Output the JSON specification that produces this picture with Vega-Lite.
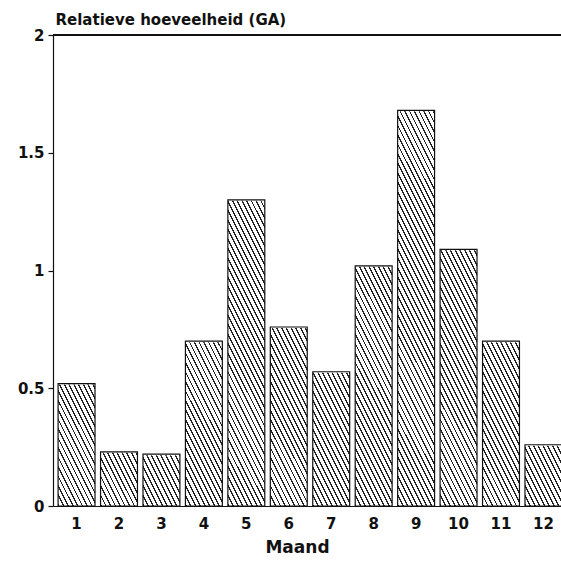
{
  "$schema": "https://vega.github.io/schema/vega-lite/v6.json",
  "autosize": "none",
  "padding": {"left": 53, "top": 35, "right": 0, "bottom": 59},
  "width": 514,
  "height": 471,
  "background": "#ffffff",
  "data": {"values": [
    {"month": 1, "value": 0.52},
    {"month": 2, "value": 0.23},
    {"month": 3, "value": 0.22},
    {"month": 4, "value": 0.70},
    {"month": 5, "value": 1.30},
    {"month": 6, "value": 0.76},
    {"month": 7, "value": 0.57},
    {"month": 8, "value": 1.02},
    {"month": 9, "value": 1.68},
    {"month": 10, "value": 1.09},
    {"month": 11, "value": 0.70},
    {"month": 12, "value": 0.26}
  ]},
  "config": {
    "view": {"stroke": null},
    "axis": {
      "domainColor": "#111", "tickColor": "#111", "labelColor": "#111", "titleColor": "#111",
      "labelFont": "DejaVu Sans", "titleFont": "DejaVu Sans", "grid": false,
      "labelFontSize": 15, "labelFontWeight": "bold", "titleFontSize": 15, "domainWidth": 1.2, "tickWidth": 1.2
    }
  },
  "layer": [
    {
      "mark": {"type": "bar", "stroke": null, "fill": {
        "gradient": "linear", "x1": 0, "y1": 1, "x2": 0.2111, "y2": -0.1454,
        "stops": [
          {"offset":0,"color":"#222"},{"offset":0.006,"color":"#222"},{"offset":0.006,"color":"#fff"},{"offset":0.02,"color":"#fff"},
          {"offset":0.02,"color":"#222"},{"offset":0.026,"color":"#222"},{"offset":0.026,"color":"#fff"},{"offset":0.04,"color":"#fff"},
          {"offset":0.04,"color":"#222"},{"offset":0.046,"color":"#222"},{"offset":0.046,"color":"#fff"},{"offset":0.06,"color":"#fff"},
          {"offset":0.06,"color":"#222"},{"offset":0.066,"color":"#222"},{"offset":0.066,"color":"#fff"},{"offset":0.08,"color":"#fff"},
          {"offset":0.08,"color":"#222"},{"offset":0.086,"color":"#222"},{"offset":0.086,"color":"#fff"},{"offset":0.1,"color":"#fff"},
          {"offset":0.1,"color":"#222"},{"offset":0.106,"color":"#222"},{"offset":0.106,"color":"#fff"},{"offset":0.12,"color":"#fff"},
          {"offset":0.12,"color":"#222"},{"offset":0.126,"color":"#222"},{"offset":0.126,"color":"#fff"},{"offset":0.14,"color":"#fff"},
          {"offset":0.14,"color":"#222"},{"offset":0.146,"color":"#222"},{"offset":0.146,"color":"#fff"},{"offset":0.16,"color":"#fff"},
          {"offset":0.16,"color":"#222"},{"offset":0.166,"color":"#222"},{"offset":0.166,"color":"#fff"},{"offset":0.18,"color":"#fff"},
          {"offset":0.18,"color":"#222"},{"offset":0.186,"color":"#222"},{"offset":0.186,"color":"#fff"},{"offset":0.2,"color":"#fff"},
          {"offset":0.2,"color":"#222"},{"offset":0.206,"color":"#222"},{"offset":0.206,"color":"#fff"},{"offset":0.22,"color":"#fff"},
          {"offset":0.22,"color":"#222"},{"offset":0.226,"color":"#222"},{"offset":0.226,"color":"#fff"},{"offset":0.24,"color":"#fff"},
          {"offset":0.24,"color":"#222"},{"offset":0.246,"color":"#222"},{"offset":0.246,"color":"#fff"},{"offset":0.26,"color":"#fff"},
          {"offset":0.26,"color":"#222"},{"offset":0.266,"color":"#222"},{"offset":0.266,"color":"#fff"},{"offset":0.28,"color":"#fff"},
          {"offset":0.28,"color":"#222"},{"offset":0.286,"color":"#222"},{"offset":0.286,"color":"#fff"},{"offset":0.3,"color":"#fff"},
          {"offset":0.3,"color":"#222"},{"offset":0.306,"color":"#222"},{"offset":0.306,"color":"#fff"},{"offset":0.32,"color":"#fff"},
          {"offset":0.32,"color":"#222"},{"offset":0.326,"color":"#222"},{"offset":0.326,"color":"#fff"},{"offset":0.34,"color":"#fff"},
          {"offset":0.34,"color":"#222"},{"offset":0.346,"color":"#222"},{"offset":0.346,"color":"#fff"},{"offset":0.36,"color":"#fff"},
          {"offset":0.36,"color":"#222"},{"offset":0.366,"color":"#222"},{"offset":0.366,"color":"#fff"},{"offset":0.38,"color":"#fff"},
          {"offset":0.38,"color":"#222"},{"offset":0.386,"color":"#222"},{"offset":0.386,"color":"#fff"},{"offset":0.4,"color":"#fff"},
          {"offset":0.4,"color":"#222"},{"offset":0.406,"color":"#222"},{"offset":0.406,"color":"#fff"},{"offset":0.42,"color":"#fff"},
          {"offset":0.42,"color":"#222"},{"offset":0.426,"color":"#222"},{"offset":0.426,"color":"#fff"},{"offset":0.44,"color":"#fff"},
          {"offset":0.44,"color":"#222"},{"offset":0.446,"color":"#222"},{"offset":0.446,"color":"#fff"},{"offset":0.46,"color":"#fff"},
          {"offset":0.46,"color":"#222"},{"offset":0.466,"color":"#222"},{"offset":0.466,"color":"#fff"},{"offset":0.48,"color":"#fff"},
          {"offset":0.48,"color":"#222"},{"offset":0.486,"color":"#222"},{"offset":0.486,"color":"#fff"},{"offset":0.5,"color":"#fff"},
          {"offset":0.5,"color":"#222"},{"offset":0.506,"color":"#222"},{"offset":0.506,"color":"#fff"},{"offset":0.52,"color":"#fff"},
          {"offset":0.52,"color":"#222"},{"offset":0.526,"color":"#222"},{"offset":0.526,"color":"#fff"},{"offset":0.54,"color":"#fff"},
          {"offset":0.54,"color":"#222"},{"offset":0.546,"color":"#222"},{"offset":0.546,"color":"#fff"},{"offset":0.56,"color":"#fff"},
          {"offset":0.56,"color":"#222"},{"offset":0.566,"color":"#222"},{"offset":0.566,"color":"#fff"},{"offset":0.58,"color":"#fff"},
          {"offset":0.58,"color":"#222"},{"offset":0.586,"color":"#222"},{"offset":0.586,"color":"#fff"},{"offset":0.6,"color":"#fff"},
          {"offset":0.6,"color":"#222"},{"offset":0.606,"color":"#222"},{"offset":0.606,"color":"#fff"},{"offset":0.62,"color":"#fff"},
          {"offset":0.62,"color":"#222"},{"offset":0.626,"color":"#222"},{"offset":0.626,"color":"#fff"},{"offset":0.64,"color":"#fff"},
          {"offset":0.64,"color":"#222"},{"offset":0.646,"color":"#222"},{"offset":0.646,"color":"#fff"},{"offset":0.66,"color":"#fff"},
          {"offset":0.66,"color":"#222"},{"offset":0.666,"color":"#222"},{"offset":0.666,"color":"#fff"},{"offset":0.68,"color":"#fff"},
          {"offset":0.68,"color":"#222"},{"offset":0.686,"color":"#222"},{"offset":0.686,"color":"#fff"},{"offset":0.7,"color":"#fff"},
          {"offset":0.7,"color":"#222"},{"offset":0.706,"color":"#222"},{"offset":0.706,"color":"#fff"},{"offset":0.72,"color":"#fff"},
          {"offset":0.72,"color":"#222"},{"offset":0.726,"color":"#222"},{"offset":0.726,"color":"#fff"},{"offset":0.74,"color":"#fff"},
          {"offset":0.74,"color":"#222"},{"offset":0.746,"color":"#222"},{"offset":0.746,"color":"#fff"},{"offset":0.76,"color":"#fff"},
          {"offset":0.76,"color":"#222"},{"offset":0.766,"color":"#222"},{"offset":0.766,"color":"#fff"},{"offset":0.78,"color":"#fff"},
          {"offset":0.78,"color":"#222"},{"offset":0.786,"color":"#222"},{"offset":0.786,"color":"#fff"},{"offset":0.8,"color":"#fff"},
          {"offset":0.8,"color":"#222"},{"offset":0.806,"color":"#222"},{"offset":0.806,"color":"#fff"},{"offset":0.82,"color":"#fff"},
          {"offset":0.82,"color":"#222"},{"offset":0.826,"color":"#222"},{"offset":0.826,"color":"#fff"},{"offset":0.84,"color":"#fff"},
          {"offset":0.84,"color":"#222"},{"offset":0.846,"color":"#222"},{"offset":0.846,"color":"#fff"},{"offset":0.86,"color":"#fff"},
          {"offset":0.86,"color":"#222"},{"offset":0.866,"color":"#222"},{"offset":0.866,"color":"#fff"},{"offset":0.88,"color":"#fff"},
          {"offset":0.88,"color":"#222"},{"offset":0.886,"color":"#222"},{"offset":0.886,"color":"#fff"},{"offset":0.9,"color":"#fff"},
          {"offset":0.9,"color":"#222"},{"offset":0.906,"color":"#222"},{"offset":0.906,"color":"#fff"},{"offset":0.92,"color":"#fff"},
          {"offset":0.92,"color":"#222"},{"offset":0.926,"color":"#222"},{"offset":0.926,"color":"#fff"},{"offset":0.94,"color":"#fff"},
          {"offset":0.94,"color":"#222"},{"offset":0.946,"color":"#222"},{"offset":0.946,"color":"#fff"},{"offset":0.96,"color":"#fff"},
          {"offset":0.96,"color":"#222"},{"offset":0.966,"color":"#222"},{"offset":0.966,"color":"#fff"},{"offset":0.98,"color":"#fff"},
          {"offset":0.98,"color":"#222"},{"offset":0.986,"color":"#222"},{"offset":0.986,"color":"#fff"},{"offset":1,"color":"#fff"}
        ]}},
      "encoding": {
        "x": {"field": "month", "type": "ordinal", "scale": {"paddingInner": 0.13, "paddingOuter": 0.12},
              "axis": {"title": "Maand", "ticks": false, "labelAngle": 0, "labelPadding": 10, "titlePadding": 8, "titleFontWeight": "bold", "titleFontSize": 17, "titleX": 244, "titleAlign": "center"}},
        "y": {"datum": 1.7, "type": "quantitative", "scale": {"domain": [0, 2], "nice": false},
              "axis": {"title": "Relatieve hoeveelheid (GA)", "values": [0, 0.5, 1, 1.5, 2], "format": "~g", "tickSize": 5, "labelPadding": 4,
                       "titleAngle": 0, "titleAlign": "left", "titleBaseline": "alphabetic", "titleX": 2, "titleY": -11, "titleFontWeight": "bold"}},
        "y2": {"datum": 0}
      }
    },
    {
      "mark": {"type": "bar", "fill": "#ffffff", "stroke": "#ffffff", "strokeWidth": 2},
      "encoding": {
        "x": {"field": "month", "type": "ordinal", "scale": {"paddingInner": 0.13, "paddingOuter": 0.12},
              "axis": {"title": "Maand", "ticks": false, "labelAngle": 0, "labelPadding": 10, "titlePadding": 8, "titleFontWeight": "bold", "titleFontSize": 17, "titleX": 244, "titleAlign": "center"}},
        "y": {"field": "value", "type": "quantitative", "scale": {"domain": [0, 2], "nice": false},
              "axis": {"title": "Relatieve hoeveelheid (GA)", "values": [0, 0.5, 1, 1.5, 2], "format": "~g", "tickSize": 5, "labelPadding": 4,
                       "titleAngle": 0, "titleAlign": "left", "titleBaseline": "alphabetic", "titleX": 2, "titleY": -11, "titleFontWeight": "bold"}},
        "y2": {"datum": 1.72}
      }
    },
    {
      "mark": {"type": "bar", "fillOpacity": 0, "stroke": "#111", "strokeWidth": 1.2},
      "encoding": {
        "x": {"field": "month", "type": "ordinal", "scale": {"paddingInner": 0.13, "paddingOuter": 0.12},
              "axis": {"title": "Maand", "ticks": false, "labelAngle": 0, "labelPadding": 10, "titlePadding": 8, "titleFontWeight": "bold", "titleFontSize": 17, "titleX": 244, "titleAlign": "center"}},
        "y": {"field": "value", "type": "quantitative", "scale": {"domain": [0, 2], "nice": false},
              "axis": {"title": "Relatieve hoeveelheid (GA)", "values": [0, 0.5, 1, 1.5, 2], "format": "~g", "tickSize": 5, "labelPadding": 4,
                       "titleAngle": 0, "titleAlign": "left", "titleBaseline": "alphabetic", "titleX": 2, "titleY": -11, "titleFontWeight": "bold"}}
      }
    },
    {
      "mark": {"type": "rule", "color": "#111", "strokeWidth": 1.2},
      "encoding": {
        "y": {"datum": 2, "type": "quantitative", "scale": {"domain": [0, 2], "nice": false},
              "axis": {"title": "Relatieve hoeveelheid (GA)", "values": [0, 0.5, 1, 1.5, 2], "format": "~g", "tickSize": 5, "labelPadding": 4,
                       "titleAngle": 0, "titleAlign": "left", "titleBaseline": "alphabetic", "titleX": 2, "titleY": -11, "titleFontWeight": "bold"}}
      }
    }
  ]
}
